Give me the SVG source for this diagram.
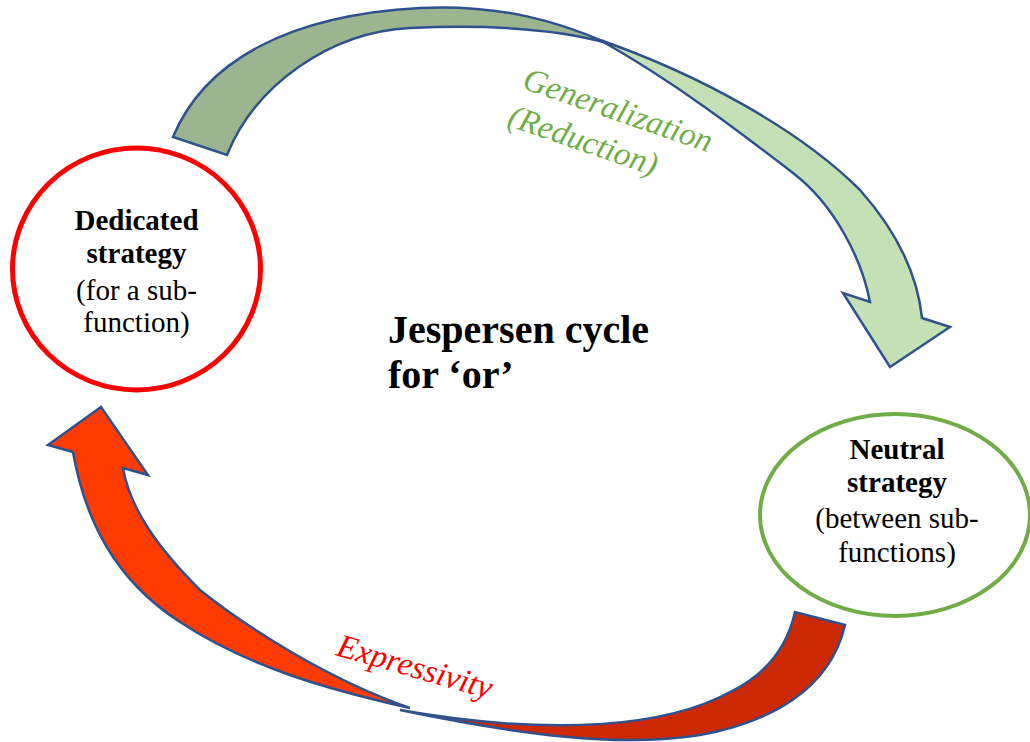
<svg xmlns="http://www.w3.org/2000/svg" width="1030" height="742" viewBox="0 0 1030 742">
<style>
.arrow{stroke:#2F528F;stroke-width:2.5;stroke-linejoin:miter}
.serif{font-family:"Liberation Serif","Times New Roman",Times,"DejaVu Serif",serif}
.bold{font-weight:bold;font-size:29px;fill:#000;text-anchor:middle}
.reg{font-size:29px;fill:#000;text-anchor:middle}
.lbl{font-style:italic;font-size:33px}
</style>
<rect width="1030" height="742" fill="#fff"/>
<g id="connectors">
  <g id="arrow-generalization">
    <path class="arrow" fill="#C5E0B4" d="M600,40 C700,75 800,130 860,190 C900,235 918,280 922,318 L950,327 L890,367 L843,293 L870,302 C862,260 835,205 793,173 C750,140 680,85 600,40 Z"/>
    <path class="arrow" fill="#9CB48F" d="M173,137 C205,60 290,15 420,8 C500,4 560,22 607,43 C560,30 500,24 410,28 C330,32 255,85 227,155 Z"/>
    <text class="serif lbl" fill="#70AD47" transform="translate(521,88) rotate(19)"><tspan x="0" y="0">Generalization</tspan><tspan x="-2" y="40">(Reduction)</tspan></text>
  </g>
  <g id="arrow-expressivity">
    <path class="arrow" fill="#CC2900" d="M795,612 C787,648 765,675 730,692 C670,725 560,738 400,710 C520,735 620,748 700,735 C770,722 830,690 845,625 Z"/>
    <path class="arrow" fill="#FF3B00" d="M410,708 C330,680 250,630 200,590 C160,550 130,510 123,468 L148,475 L101,407 L48,445 L73,452 C85,520 115,580 180,622 C250,668 330,690 410,708 Z"/>
    <text class="serif lbl" fill="#FF0000" font-size="35" transform="translate(335,655) rotate(16)">Expressivity</text>
  </g>
</g>
<g id="node-dedicated">
  <ellipse cx="136.5" cy="269" rx="124" ry="121" fill="#fff" stroke="#FF0000" stroke-width="5"/>
  <text class="serif bold" x="136.5" y="230">Dedicated</text>
  <text class="serif bold" x="136.5" y="263">strategy</text>
  <text class="serif reg" x="136.5" y="300">(for a sub-</text>
  <text class="serif reg" x="136.5" y="332">function)</text>
</g>
<g id="node-neutral">
  <ellipse cx="895" cy="515" rx="135" ry="101" fill="#fff" stroke="#70AD47" stroke-width="4"/>
  <text class="serif bold" x="897" y="459">Neutral</text>
  <text class="serif bold" x="897" y="492">strategy</text>
  <text class="serif reg" x="897" y="528">(between sub-</text>
  <text class="serif reg" x="897" y="562">functions)</text>
</g>
<g id="title">
  <text class="serif" font-weight="bold" font-size="40" fill="#000"><tspan x="388" y="343">Jespersen cycle</tspan><tspan x="388" y="388">for ‘or’</tspan></text>
</g>
</svg>
